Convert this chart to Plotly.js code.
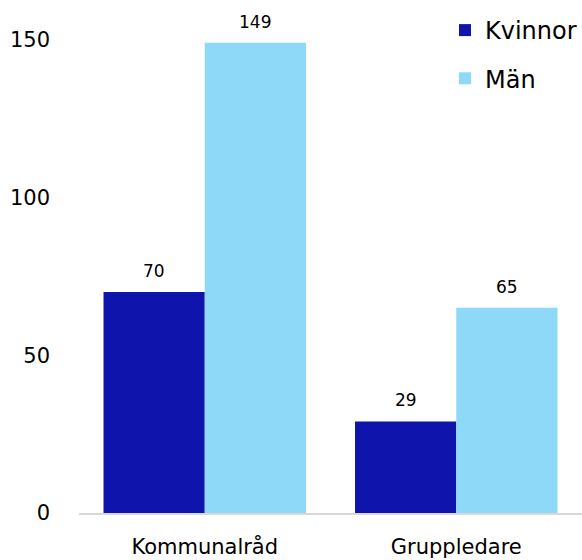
<!DOCTYPE html>
<html>
<head>
<meta charset="utf-8">
<script src="https://cdn.plot.ly/plotly-3.0.1.min.js"></script>
<style>body{margin:0;padding:0;background:#fff}</style>
</head>
<body>
<div id="plot" style="width:582px;height:560px"></div>
<script>
var categories = ["Kommunalråd", "Gruppledare"];
var kvinnor = [70, 29];
var man = [149, 65];

var font = "DejaVu Sans, Arial, sans-serif";

var trace1 = {
    x: categories,
    y: kvinnor,
    name: "Kvinnor",
    type: "bar",
    legendgroup: "a",
    marker: {color: "#0f14ad"}
};
var trace2 = {
    x: categories,
    y: man,
    name: "Män",
    type: "bar",
    legendgroup: "b",
    marker: {color: "#8ed8f8"}
};
var data = [trace1, trace2];

// value labels above the bars, half a bar to each side of the category
var labels = [];
categories.forEach(function(c, i) {
    labels.push({x: c, y: kvinnor[i], text: String(kvinnor[i]), xshift: -50.5});
    labels.push({x: c, y: man[i], text: String(man[i]), xshift: 50.5});
});
labels = labels.map(function(a) {
    a.showarrow = false;
    a.yanchor = "bottom";
    a.yshift = 9;
    a.font = {size: 17, color: "#000"};
    return a;
});

var layOut = {
    width: 582,
    height: 560,
    margin: {l: 79, r: 0, t: 8, b: 47, pad: 0, autoexpand: false},
    font: {family: font, size: 21, color: "#000"},
    paper_bgcolor: "#fff",
    plot_bgcolor: "#fff",
    barmode: "group",
    bargap: 0.195,
    bargroupgap: 0,
    showlegend: true,
    legend: {
        x: 1.0, xanchor: "right", y: 1.0, yanchor: "top",
        font: {size: 24},
        tracegroupgap: 14,
        bgcolor: "rgba(0,0,0,0)"
    },
    annotations: labels,
    xaxis: {
        showline: true, linecolor: "#d9d9d9", linewidth: 2,
        showgrid: false, ticks: "", ticklabelstandoff: 14,
        tickfont: {size: 21}
    },
    yaxis: {
        range: [0, 160], tickvals: [0, 50, 100, 150],
        showline: false, showgrid: false, zeroline: false,
        ticks: "", ticklabelstandoff: 28,
        tickfont: {size: 21}
    }
};
Plotly.newPlot("plot", data, layOut, {displayModeBar: false});
</script>
</body>
</html>
